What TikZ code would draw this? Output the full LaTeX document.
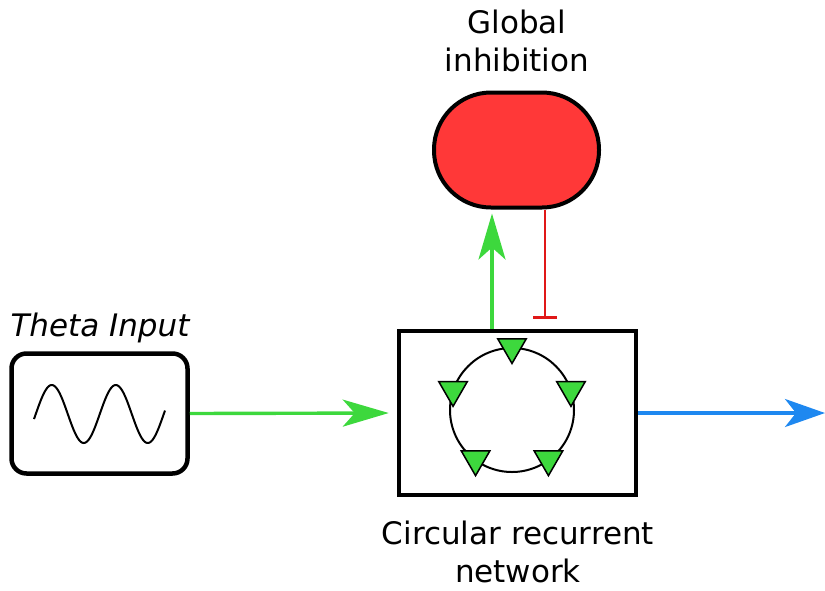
\documentclass[tikz,border=0pt]{standalone}
\usepackage{fontspec}
\setmainfont{DejaVu Sans}
\usetikzlibrary{arrows.meta,shapes.geometric,calc}
\definecolor{exc}{HTML}{3DD83D}
\definecolor{inhfill}{HTML}{FF3838}
\definecolor{inhline}{HTML}{E01818}
\definecolor{outblue}{HTML}{1E88F0}
\tikzset{
  label text/.style={font=\fontsize{31}{38}\selectfont, align=center, inner sep=0pt},
  excite/.style={draw=exc, line width=3.4pt, -{Stealth[length=46pt,width=27pt,inset=12pt]}},
  output/.style={draw=outblue, line width=3.4pt, -{Stealth[length=40pt,width=28pt,inset=11pt]}},
  inhibit/.style={draw=inhline, line width=2.4pt, -{Bar[width=24pt,line width=2.6pt]}},
  neuron/.style={regular polygon, regular polygon sides=3, shape border rotate=180,
    minimum size=33pt, inner sep=0pt, fill=exc, draw=black, line width=1.5pt},
}
\begin{document}
\begin{tikzpicture}[x=1pt,y=-1pt]
\useasboundingbox (0,0) rectangle (825,590);

% theta input generator
\node[draw, line width=4.5pt, rounded corners=15pt, minimum width=176pt, minimum height=120pt,
  inner sep=0pt] (theta) at (99.5,413.5) {};
\node[label text, font=\fontsize{31}{36}\selectfont\itshape] (thetalbl) at (100,328) {Theta Input};
\draw[line width=2pt, domain=34:165, samples=120, smooth]
  plot (\x, {414 - 29*sin((\x-34)*5.625 - 10)});

% recurrent network box
\node[draw, line width=4.5pt, minimum width=237pt, minimum height=164pt, inner sep=0pt]
  (net) at (517.5,413) {};
\node[draw, line width=2pt, circle, minimum size=124pt, inner sep=0pt] (ring) at (512,410) {};
\foreach \a [count=\i] in {90,162,234,306,18} {
  \node[neuron] (n\i) at ($(ring.center)+(\a:62 and -62)+(0,-1)$) {};
}
\node[label text] (netlbl) at (518,552) {Circular recurrent\\network};

% global inhibition pool
\node[draw, line width=4pt, fill=inhfill, rounded corners=57pt, minimum width=165pt,
  minimum height=115pt, inner sep=0pt] (inh) at (516.5,150) {};
\node[label text] (inhlbl) at (517,41) {Global\\inhibition};

% connections
\draw[excite, shorten >=8pt] (theta.east) -- (net.west);
\coordinate (upx) at (492,0);
\draw[excite, shorten >=4pt] (net.north -| upx) -- (inh.south -| upx);
\coordinate (inhx) at (545,319);
\draw[inhibit] (inh.south -| inhx) -- (inhx);
\coordinate (outend) at (825,413);
\draw[output] (net.east) -- (outend);
\end{tikzpicture}
\end{document}
